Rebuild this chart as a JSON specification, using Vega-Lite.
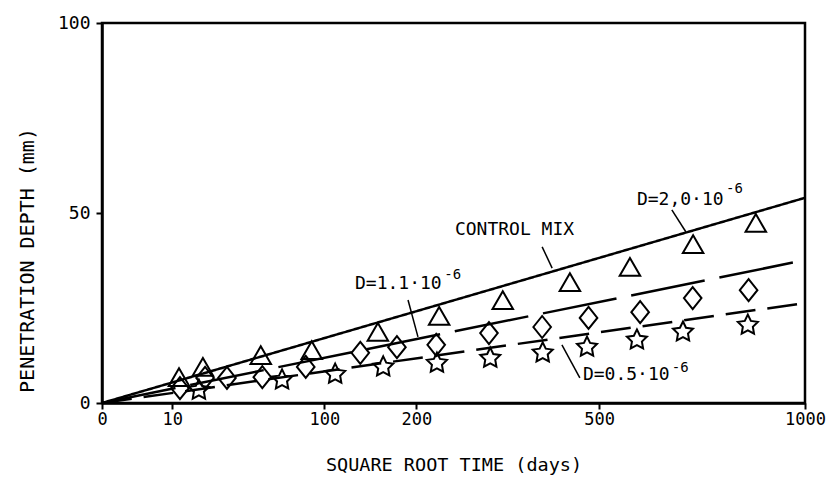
{
  "$schema": "https://vega.github.io/schema/vega-lite/v6.json",
  "width": 703,
  "height": 380,
  "autosize": {"type": "none"},
  "padding": {"left": 102, "top": 23, "right": 23, "bottom": 80},
  "background": "white",
  "config": {
    "view": {"stroke": "black", "strokeWidth": 2.5},
    "font": "DejaVu Sans Mono",
    "axis": {
      "grid": false,
      "domainColor": "black",
      "domainWidth": 2.5,
      "tickColor": "black",
      "tickWidth": 2,
      "tickSize": 6,
      "labelColor": "black",
      "titleColor": "black",
      "labelFont": "DejaVu Sans Mono",
      "titleFont": "DejaVu Sans Mono",
      "titleFontWeight": "normal",
      "labelFontSize": 17,
      "titleFontSize": 18.5
    }
  },
  "datasets": {
    "fits": [
      {"series": "control", "t": 0, "depth": 0},
      {"series": "control", "t": 1000, "depth": 54},
      {"series": "d11", "t": 0, "depth": 0},
      {"series": "d11", "t": 1000, "depth": 37.6},
      {"series": "d05", "t": 0, "depth": 0},
      {"series": "d05", "t": 1000, "depth": 26.3}
    ],
    "control": [
      {"t": 12, "depth": 6.8},
      {"t": 20.6, "depth": 9.5},
      {"t": 51, "depth": 12.6},
      {"t": 89, "depth": 13.9},
      {"t": 154, "depth": 18.7},
      {"t": 230, "depth": 22.9},
      {"t": 325, "depth": 27.1},
      {"t": 443, "depth": 31.8},
      {"t": 564, "depth": 35.8},
      {"t": 707, "depth": 41.8},
      {"t": 865, "depth": 47.4}
    ],
    "d11": [
      {"t": 12.3, "depth": 3.9},
      {"t": 21.5, "depth": 6.6},
      {"t": 31.6, "depth": 6.6},
      {"t": 52, "depth": 6.8},
      {"t": 84, "depth": 9.5},
      {"t": 135, "depth": 13.2},
      {"t": 176, "depth": 14.7},
      {"t": 226, "depth": 15.3},
      {"t": 303, "depth": 18.4},
      {"t": 392, "depth": 20},
      {"t": 479, "depth": 22.4},
      {"t": 586, "depth": 23.9},
      {"t": 706, "depth": 27.6},
      {"t": 846, "depth": 29.7}
    ],
    "d05": [
      {"t": 19, "depth": 3.4},
      {"t": 65.6, "depth": 6.1},
      {"t": 110, "depth": 7.6},
      {"t": 160, "depth": 9.5},
      {"t": 227, "depth": 10.5},
      {"t": 305, "depth": 11.8},
      {"t": 393, "depth": 13.2},
      {"t": 476, "depth": 14.7},
      {"t": 579, "depth": 16.6},
      {"t": 683, "depth": 18.7},
      {"t": 844, "depth": 20.5}
    ],
    "labels": [
      {"label": "CONTROL MIX", "t": 252, "depth": 45.5},
      {"label": "D=2,0·10", "t": 579, "depth": 53.4},
      {"label": "D=1.1·10", "t": 129.5, "depth": 31.3},
      {"label": "D=0.5·10", "t": 468, "depth": 7.4}
    ],
    "sups": [
      {"label": "-6", "t": 788, "depth": 56.3},
      {"label": "-6", "t": 237, "depth": 33.6},
      {"label": "-6", "t": 657, "depth": 9.2}
    ],
    "arrows": [
      {"t": 392, "depth": 41.1, "t2": 410, "depth2": 35.5},
      {"t": 657, "depth": 50.8, "t2": 690, "depth2": 45},
      {"t": 189.5, "depth": 27.1, "t2": 202, "depth2": 17.4},
      {"t": 428, "depth": 15.3, "t2": 462, "depth2": 6.6}
    ]
  },
  "layer": [
    {
      "data": {"name": "fits"},
      "mark": {"type": "line", "color": "black", "strokeWidth": 2.5},
      "encoding": {
        "x": {
          "field": "t",
          "type": "quantitative",
          "scale": {"type": "sqrt", "domain": [0, 1000], "nice": false},
          "axis": {
            "values": [0, 10, 100, 200, 500, 1000],
            "format": "d",
            "title": "SQUARE ROOT TIME  (days)",
            "labelPadding": 2,
            "titlePadding": 28,
            "labelFlush": false,
            "labelOverlap": false
          }
        },
        "y": {
          "field": "depth",
          "type": "quantitative",
          "scale": {"domain": [0, 100], "nice": false},
          "axis": {
            "values": [0, 50, 100],
            "title": "PENETRATION DEPTH  (mm)",
            "labelPadding": 6,
            "labelFontSize": 18,
            "titleFontSize": 20,
            "titleX": -75,
            "titleY": 237,
            "titleAngle": -90,
            "titleAlign": "center",
            "titleBaseline": "middle"
          }
        },
        "strokeDash": {
          "field": "series",
          "type": "nominal",
          "scale": {"domain": ["control", "d11", "d05"], "range": [[1, 0], [75, 15], [30, 12]]},
          "legend": null
        }
      }
    },
    {
      "data": {"name": "control"},
      "mark": {"type": "point", "shape": "triangle-up", "size": 420, "filled": false, "color": "black", "opacity": 1, "strokeWidth": 2},
      "encoding": {
        "x": {"field": "t", "type": "quantitative"},
        "y": {"field": "depth", "type": "quantitative"}
      }
    },
    {
      "data": {"name": "d11"},
      "mark": {"type": "point", "shape": "M-0.8,0L0,-1L0.8,0L0,1Z", "size": 484, "filled": false, "color": "black", "opacity": 1, "strokeWidth": 2},
      "encoding": {
        "x": {"field": "t", "type": "quantitative"},
        "y": {"field": "depth", "type": "quantitative"}
      }
    },
    {
      "data": {"name": "d05"},
      "mark": {"type": "point", "shape": "M0,-1L0.29,-0.4L0.951,-0.309L0.476,0.155L0.588,0.809L0,0.5L-0.588,0.809L-0.476,0.155L-0.951,-0.309L-0.29,-0.4Z", "size": 440, "filled": false, "color": "black", "opacity": 1, "strokeWidth": 2},
      "encoding": {
        "x": {"field": "t", "type": "quantitative"},
        "y": {"field": "depth", "type": "quantitative"}
      }
    },
    {
      "data": {"name": "arrows"},
      "mark": {"type": "rule", "color": "black", "strokeWidth": 1.5},
      "encoding": {
        "x": {"field": "t", "type": "quantitative"},
        "y": {"field": "depth", "type": "quantitative"},
        "x2": {"field": "t2"},
        "y2": {"field": "depth2"}
      }
    },
    {
      "data": {"name": "labels"},
      "mark": {"type": "text", "align": "left", "baseline": "middle", "fontSize": 18, "color": "black", "font": "DejaVu Sans Mono"},
      "encoding": {
        "x": {"field": "t", "type": "quantitative"},
        "y": {"field": "depth", "type": "quantitative"},
        "text": {"field": "label"}
      }
    },
    {
      "data": {"name": "sups"},
      "mark": {"type": "text", "align": "left", "baseline": "middle", "fontSize": 14, "color": "black", "font": "DejaVu Sans Mono"},
      "encoding": {
        "x": {"field": "t", "type": "quantitative"},
        "y": {"field": "depth", "type": "quantitative"},
        "text": {"field": "label"}
      }
    }
  ]
}
